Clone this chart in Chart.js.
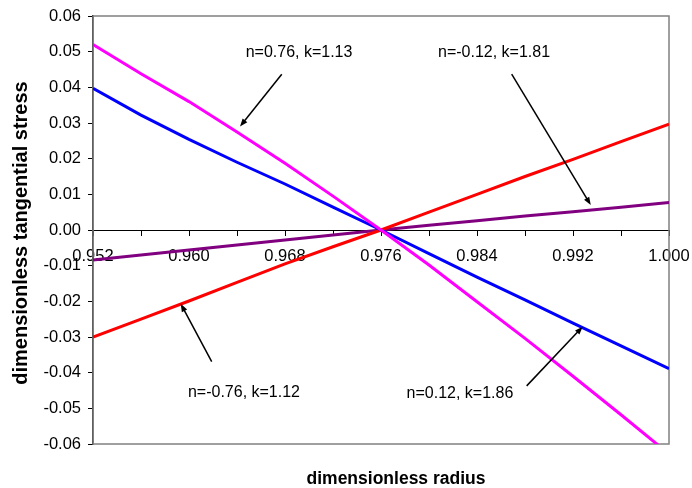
<!DOCTYPE html>
<html>
<head>
<meta charset="utf-8">
<script src="https://cdn.jsdelivr.net/npm/chart.js@4.4.1/dist/chart.umd.min.js"></script>
<style>
  html, body { margin: 0; padding: 0; background: #ffffff; }
  #wrap { width: 692px; height: 488px; }
</style>
</head>
<body>
<div id="wrap"><canvas id="c" width="692" height="488"></canvas></div>
<script>
// Dimensionless radius (x) and tangential stress series for four (n, k) pairs
const radius = [0.952, 0.956, 0.960, 0.964, 0.968, 0.972, 0.976, 0.980, 0.984, 0.988, 0.992, 0.996, 1.000];
const stressN076K113 = [0.0520, 0.0438, 0.0360, 0.0275, 0.0187, 0.0095, 0.0000, -0.0098, -0.0201, -0.0304, -0.0410, -0.0518, -0.0628];
const stressN012K186 = [0.0397, 0.0322, 0.0254, 0.0190, 0.0129, 0.0064, 0.0000, -0.0066, -0.0132, -0.0196, -0.0261, -0.0325, -0.0389];
const stressNm076K112 = [-0.0300, -0.0250, -0.0199, -0.0147, -0.0095, -0.0047, 0.0000, 0.0050, 0.0100, 0.0150, 0.0198, 0.0248, 0.0297];
const stressNm012K181 = [-0.0084, -0.0070, -0.0056, -0.0042, -0.0028, -0.0014, 0.0000, 0.0013, 0.0026, 0.0039, 0.0051, 0.0064, 0.0077];

const xTickValues = [0.952, 0.956, 0.960, 0.964, 0.968, 0.972, 0.976, 0.980, 0.984, 0.988, 0.992, 0.996, 1.000];
const xTickLabels = ['0.952', '', '0.960', '', '0.968', '', '0.976', '', '0.984', '', '0.992', '', '1.000'];
const yTickValues = [-0.06, -0.05, -0.04, -0.03, -0.02, -0.01, 0, 0.01, 0.02, 0.03, 0.04, 0.05, 0.06];
const yTickLabels = ['-0.06', '-0.05', '-0.04', '-0.03', '-0.02', '-0.01', '0.00', '0.01', '0.02', '0.03', '0.04', '0.05', '0.06'];

// Callout labels with leader arrows, in data units: [text, x, y, tailX, tailY, headX, headY]
const callouts = [
  ['n=0.76, k=1.13', 0.96917, 0.0496, 0.96773, 0.04365, 0.96425, 0.0290],
  ['n=-0.12, k=1.81', 0.98542, 0.0496, 0.98689, 0.04373, 0.99348, 0.0070],
  ['n=-0.76, k=1.12', 0.96458, -0.0457, 0.96189, -0.0369, 0.95931, -0.0207],
  ['n=0.12, k=1.86', 0.98258, -0.0460, 0.98814, -0.0437, 0.99281, -0.0271]
];

const FONT = '"Liberation Sans", Arial, sans-serif';

function points(ys) {
  return radius.map((x, i) => ({ x: x, y: ys[i] }));
}

const framePlugin = {
  id: 'frame',
  beforeDatasetsDraw(chart) {
    const { ctx, chartArea: a } = chart;
    ctx.save();
    ctx.strokeStyle = '#808080';
    ctx.lineWidth = 1.5;
    ctx.strokeRect(a.left, a.top, a.right - a.left, a.bottom - a.top);
    ctx.restore();
  }
};

const calloutPlugin = {
  id: 'callouts',
  afterDatasetsDraw(chart) {
    const { ctx } = chart;
    const xs = chart.scales.x, ys = chart.scales.y;
    ctx.save();
    ctx.fillStyle = '#000';
    ctx.strokeStyle = '#000';
    ctx.font = '16px ' + FONT;
    ctx.textAlign = 'center';
    ctx.textBaseline = 'middle';
    callouts.forEach(c => {
      ctx.fillText(c[0], xs.getPixelForValue(c[1]), ys.getPixelForValue(c[2]));
      const x0 = xs.getPixelForValue(c[3]), y0 = ys.getPixelForValue(c[4]);
      const x1 = xs.getPixelForValue(c[5]), y1 = ys.getPixelForValue(c[6]);
      const ang = Math.atan2(y1 - y0, x1 - x0);
      const hl = 8, hw = 3;
      ctx.lineWidth = 1.5;
      ctx.beginPath();
      ctx.moveTo(x0, y0);
      ctx.lineTo(x1 - Math.cos(ang) * hl * 0.8, y1 - Math.sin(ang) * hl * 0.8);
      ctx.stroke();
      ctx.beginPath();
      ctx.moveTo(x1, y1);
      ctx.lineTo(x1 - Math.cos(ang) * hl - Math.sin(ang) * hw, y1 - Math.sin(ang) * hl + Math.cos(ang) * hw);
      ctx.lineTo(x1 - Math.cos(ang) * hl + Math.sin(ang) * hw, y1 - Math.sin(ang) * hl - Math.cos(ang) * hw);
      ctx.closePath();
      ctx.fill();
    });
    ctx.restore();
  }
};

const axisTitlePlugin = {
  id: 'axisTitles',
  afterDraw(chart) {
    const { ctx, chartArea: a } = chart;
    ctx.save();
    ctx.fillStyle = '#000';
    ctx.font = 'bold 17.5px ' + FONT;
    ctx.textAlign = 'center';
    ctx.textBaseline = 'middle';
    ctx.fillText('dimensionless radius', (a.left + a.right) / 2 + 15, 479);
    ctx.font = 'bold 20px ' + FONT;
    ctx.translate(21, (a.top + a.bottom) / 2 + 3);
    ctx.rotate(-Math.PI / 2);
    ctx.fillText('dimensionless tangential stress', 0, 0);
    ctx.restore();
  }
};

new Chart(document.getElementById('c'), {
  type: 'line',
  data: {
    datasets: [
      { label: 'n=0.76, k=1.13', data: points(stressN076K113), borderColor: '#FF00FF' },
      { label: 'n=0.12, k=1.86', data: points(stressN012K186), borderColor: '#0000FF' },
      { label: 'n=-0.76, k=1.12', data: points(stressNm076K112), borderColor: '#FF0000' },
      { label: 'n=-0.12, k=1.81', data: points(stressNm012K181), borderColor: '#800080' }
    ]
  },
  options: {
    responsive: false,
    animation: false,
    devicePixelRatio: 1,
    layout: { padding: { top: 16, right: 23, bottom: 44, left: 0 } },
    elements: {
      line: { borderWidth: 3, tension: 0, fill: false },
      point: { radius: 0, hoverRadius: 0 }
    },
    plugins: { legend: { display: false }, tooltip: { enabled: false } },
    scales: {
      x: {
        type: 'linear',
        position: { y: 0 },
        min: 0.952,
        max: 1.000,
        afterBuildTicks(scale) { scale.ticks = xTickValues.map(v => ({ value: v })); },
        afterFit(scale) { scale.paddingLeft = 0; scale.paddingRight = 0; },
        ticks: {
          autoSkip: false,
          maxRotation: 0,
          padding: 12,
          color: '#000',
          font: { family: FONT, size: 16.5 },
          callback(value, index) { return xTickLabels[index]; }
        },
        grid: { drawOnChartArea: false, drawTicks: true, tickLength: 5, color: '#000', lineWidth: 1 },
        border: { display: true, color: '#000', width: 1, dash: [1, 1] }
      },
      y: {
        type: 'linear',
        min: -0.06,
        max: 0.06,
        afterBuildTicks(scale) { scale.ticks = yTickValues.map(v => ({ value: v })); },
        afterFit(scale) { scale.width = 93; scale.paddingTop = 0; scale.paddingBottom = 0; },
        ticks: {
          padding: 7,
          color: '#000',
          font: { family: FONT, size: 16.5 },
          callback(value, index) { return yTickLabels[index]; }
        },
        grid: { drawOnChartArea: false, drawTicks: true, tickLength: 5, color: '#000', lineWidth: 1 },
        border: { display: true, color: '#000', width: 1.5 }
      }
    }
  },
  plugins: [framePlugin, calloutPlugin, axisTitlePlugin]
});
</script>
</body>
</html>
